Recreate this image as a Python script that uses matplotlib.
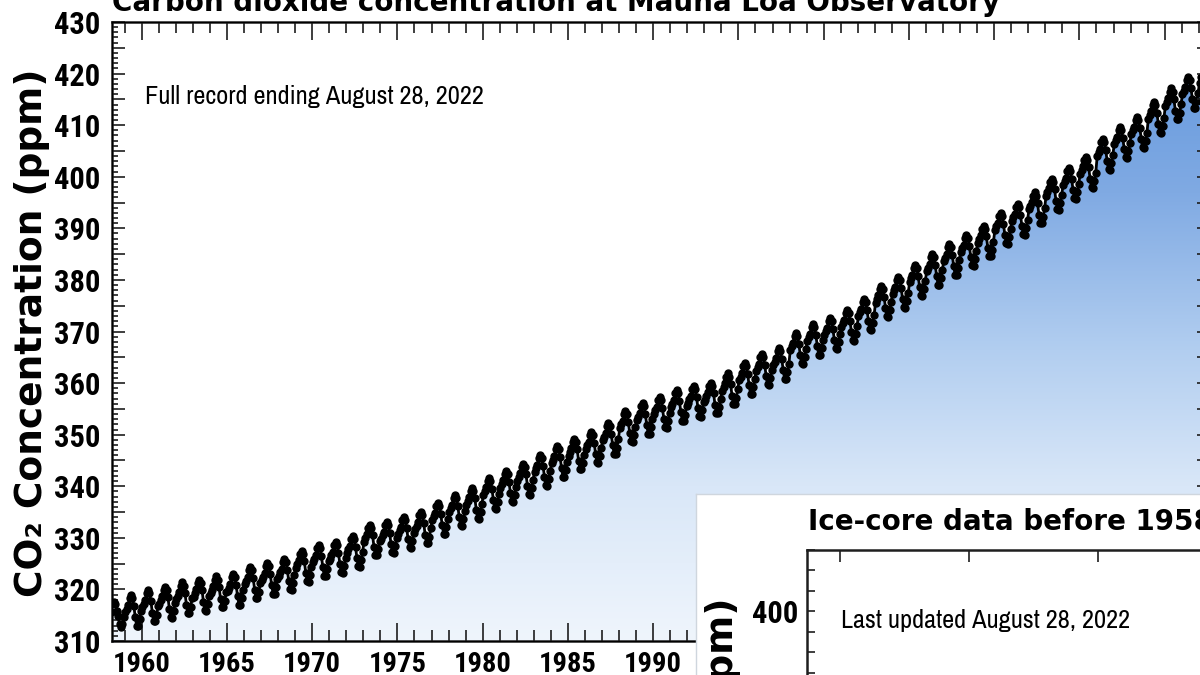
import numpy as np
import matplotlib
matplotlib.use("Agg")
import matplotlib.pyplot as plt
from matplotlib.colors import LinearSegmentedColormap
from matplotlib.ticker import MultipleLocator, FuncFormatter

# Mauna Loa annual mean CO2 (ppm)
years = list(range(1959, 2022))
annual_mean = [
    315.98, 316.91, 317.64, 318.45, 318.99, 319.62, 320.04, 321.37, 322.18, 323.05,
    324.62, 325.68, 326.32, 327.46, 329.68, 330.19, 331.13, 332.03, 333.84, 335.41,
    336.84, 338.76, 340.12, 341.48, 343.15, 344.87, 346.35, 347.61, 349.31, 351.69,
    353.20, 354.45, 355.70, 356.54, 357.21, 358.96, 360.97, 362.74, 363.88, 366.84,
    368.54, 369.71, 371.32, 373.45, 375.98, 377.70, 379.98, 382.09, 384.02, 385.83,
    387.64, 390.10, 391.85, 394.06, 396.74, 398.81, 401.01, 404.41, 406.76, 408.72,
    411.65, 414.21, 416.41,
]
# typical departure of each month (Jan..Dec) from the annual mean
month_offset = [-0.4, 0.3, 1.0, 2.3, 2.9, 2.3, 0.8, -1.4, -3.0, -3.1, -1.8, -0.2]
# partial years at both ends of the record
co2_1958 = [315.70, 317.45, 317.51, 317.24, 315.86, 314.93, 313.20, 312.66, 313.33, 314.67]  # Mar-Dec
co2_2022 = [418.19, 419.28, 418.81, 420.23, 420.99, 420.99, 418.90, 417.19]  # Jan-Aug

# ice-core record for the inset
ice_years = [1700, 1750, 1800, 1850, 1880, 1900, 1920, 1940, 1950]
ice_co2 = [277.0, 277.0, 282.0, 285.0, 290.0, 296.0, 303.0, 310.0, 311.0]

# monthly series
t, co2 = [], []
for i, v in enumerate(co2_1958):
    t.append(1958 + (i + 2.5) / 12)
    co2.append(v)
for yr, mean in zip(years, annual_mean):
    for k, off in enumerate(month_offset):
        t.append(yr + (k + 0.5) / 12)
        co2.append(mean + off)
for i, v in enumerate(co2_2022):
    t.append(2022 + (i + 0.5) / 12)
    co2.append(v)
t = np.array(t)
co2 = np.array(co2)

plt.rcParams["font.family"] = ["Roboto Condensed", "DejaVu Sans"]
plt.rcParams["font.weight"] = "bold"

W, H = 1200, 675
fig = plt.figure(figsize=(12, 6.75), dpi=100)


def box(l, t_, r, b):
    return [l / W, 1 - b / H, (r - l) / W, (b - t_) / H]


INK = "#1e1e1e"
WIDE = ["DejaVu Sans"]
NARROW = ["Archivo Narrow", "DejaVu Sans"]

# ---------------- main panel ----------------
ax = fig.add_axes(box(112, 22, 1200.5, 641))

cmap = LinearSegmentedColormap.from_list(
    "co2fill",
    [(0.0, "#eff5fc"), (0.25, "#d9e7f8"), (0.47, "#b2cef0"), (0.725, "#80aae3"), (1.0, "#5f95dc")],
)
poly = ax.fill_between(t, co2, 300, facecolor="none", edgecolor="none")
grad = np.linspace(0, 1, 256).reshape(-1, 1)
im = ax.imshow(grad, extent=[1955, 2025, 310, 430], origin="lower", aspect="auto",
               cmap=cmap, zorder=1, interpolation="bilinear")
im.set_clip_path(poly.get_paths()[0], transform=ax.transData)

ax.plot(t, co2, color="black", lw=2.0, marker="o", ms=5.0, zorder=3)

ax.set_xlim(1958.26, 2022.1)
ax.set_ylim(310, 430)

ax.xaxis.set_major_locator(MultipleLocator(5))
ax.xaxis.set_minor_locator(MultipleLocator(1))
# year labels past 1990 sit under the inset panel
ax.xaxis.set_major_formatter(FuncFormatter(lambda v, p: f"{v:.0f}" if v < 1992 else ""))
ax.yaxis.set_major_locator(MultipleLocator(5))
ax.yaxis.set_minor_locator(MultipleLocator(1))
ax.yaxis.set_major_formatter(FuncFormatter(lambda v, p: f"{v:.0f}" if round(v) % 10 == 0 else ""))

ax.tick_params(axis="x", which="both", direction="in", top=True, bottom=True,
               width=1.2, color=INK, labelsize=20.5)
ax.tick_params(axis="x", which="major", length=13, pad=7)
ax.tick_params(axis="x", which="minor", length=8)
ax.tick_params(axis="y", which="both", direction="in", left=True, right=False,
               width=1.2, color=INK, labelsize=22)
ax.tick_params(axis="y", which="major", length=9.5, pad=8.5)
ax.tick_params(axis="y", which="minor", length=4.5)
for s in ax.spines.values():
    s.set_linewidth(1.8)
    s.set_color(INK)

# right-hand ticks, every 5 ppm
ax_r = ax.twinx()
ax_r.set_ylim(310, 430)
ax_r.yaxis.set_major_locator(MultipleLocator(5))
ax_r.tick_params(axis="y", direction="in", length=3, width=1.2, color=INK, labelright=False)
ax_r.spines["right"].set_visible(False)

fig.text(112 / W, 1 - 11 / H, "Carbon dioxide concentration at Mauna Loa Observatory",
         ha="left", va="baseline", family=WIDE, weight="bold", size=20, color="black")
fig.text(42 / W, 1 - 332.5 / H, "CO₂ Concentration (ppm)", rotation=90, rotation_mode="anchor",
         ha="center", va="baseline", family=WIDE, weight="bold", size=27)
fig.text(145 / W, 1 - 104 / H, "Full record ending August 28, 2022",
         ha="left", va="baseline", family=NARROW, weight="normal", size=19)

# ---------------- inset panel ----------------
bg = fig.add_axes(box(696, 494, 1215, 690))
bg.set_facecolor("white")
bg.set_xticks([])
bg.set_yticks([])
for s in bg.spines.values():
    s.set_color("#cfd6de")
    s.set_linewidth(1.0)

inset = fig.add_axes(box(807, 550, 807 + 885, 550 + 348))
inset.set_facecolor("white")
inset.plot(ice_years, ice_co2, "o", color="black", ms=4)
inset.plot(years, annual_mean, color="black", lw=1.6)
inset.set_xlim(1687.2, 2030.2)
inset.set_ylim(260, 430)
inset.xaxis.set_major_locator(MultipleLocator(50))
inset.yaxis.set_major_locator(MultipleLocator(50))
inset.yaxis.set_minor_locator(MultipleLocator(10))
inset.tick_params(axis="x", which="major", direction="in", top=True, bottom=True,
                  length=8.6, width=1.2, color=INK, labelsize=20.5)
inset.tick_params(axis="y", which="both", direction="in", length=5.8, width=1.2,
                  color=INK, labelsize=22, pad=6.5)
for s in inset.spines.values():
    s.set_linewidth(1.8)
    s.set_color(INK)

fig.text(808 / W, 1 - 530 / H, "Ice-core data before 1958",
         ha="left", va="baseline", family=WIDE, weight="bold", size=20)
fig.text(733 / W, 1 - 597 / H, "CO₂ Concentration (ppm)", rotation=90, rotation_mode="anchor",
         ha="right", va="baseline", family=WIDE, weight="bold", size=27)
fig.text(841 / W, 1 - 628 / H, "Last updated August 28, 2022",
         ha="left", va="baseline", family=NARROW, weight="normal", size=19)

fig.savefig("out.png", dpi=100)
